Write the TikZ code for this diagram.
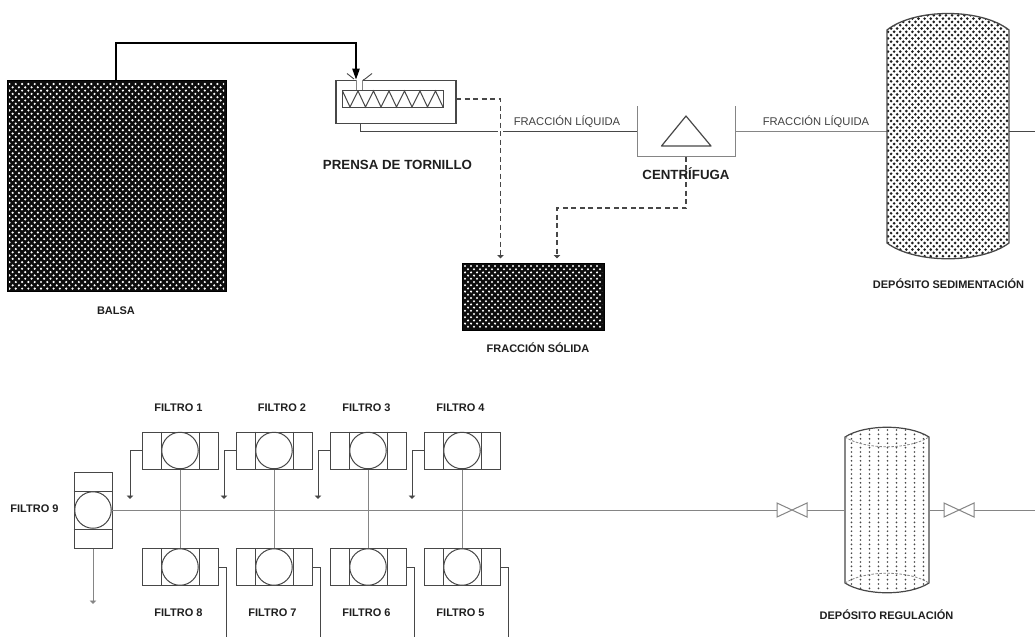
\documentclass[tikz,border=0pt]{standalone}
\usepackage{fontspec}
\setmainfont{Liberation Sans}
\usetikzlibrary{arrows.meta}
\definecolor{ln}{gray}{0.28}
\definecolor{ltl}{gray}{0.52}
\definecolor{ink}{gray}{0.12}
\tikzset{
  x=1pt,y=-1pt,
  pipe/.style={draw=ln,line width=0.9pt},
  thinpipe/.style={draw=ltl,line width=0.9pt},
  dashpipe/.style={draw=ln,line width=1.15pt,dash pattern=on 5pt off 3.5pt},
  smalltip/.style={-{Triangle[length=3.5pt,width=6.5pt]}},
  feedline/.style={draw=black,line width=1.2pt,-{Triangle[length=11pt,width=7.5pt]}},
  shell/.style={draw=ln,line width=1.2pt},
  filt/.style={draw=ln,line width=1pt,inner sep=0pt,minimum width=76pt,minimum height=37pt},
  filtv/.style={draw=ln,line width=1pt,inner sep=0pt,minimum width=38pt,minimum height=76pt},
  wheel/.style={circle,draw=ln,line width=1pt,fill=white,inner sep=0pt,minimum size=36.5pt},
  lab/.style={font=\bfseries\fontsize{11}{12}\selectfont,text=ink,inner sep=0pt},
  biglab/.style={font=\bfseries\fontsize{13.3}{15}\selectfont,text=ink,inner sep=0pt},
  liq/.style={font=\fontsize{11.2}{13}\selectfont,text=ink!85!white,inner sep=0pt},
}
% hole pattern: x0 y0 x1 y1 pitchx pitchy radius colour
\newcommand{\dotfield}[8]{%
  \pgfmathtruncatemacro{\nr}{(#4-#2)/#6}%
  \pgfmathtruncatemacro{\nc}{(#3-#1)/#5}%
  \fill[#8]
  \foreach \r in {0,...,\nr}{\foreach \c in {0,...,\nc}{%
    ({#1+\c*#5+mod(\r,2)*#5/2},{#2+\r*#6}) circle[radius=#7]}};%
}
% horizontal filter: name, cx, cy
\newcommand{\filtroH}[3]{%
  \node[filt] (#1) at (#2,#3) {};
  \draw[draw=ln,line width=1pt] ([xshift=-19pt]#1.north) -- ([xshift=-19pt]#1.south)
     ([xshift=19pt]#1.north) -- ([xshift=19pt]#1.south);
  \node[wheel] (#1c) at (#2,#3) {};
}
\newcommand{\valve}[3]{%
  \coordinate (#1) at (#2,#3);
  \draw[draw=ltl,line width=1pt] (#2-15,#3-7) -- (#2+15,#3+7) -- (#2+15,#3-7) -- (#2-15,#3+7) -- cycle;
  \coordinate (#1w) at (#2-15,#3); \coordinate (#1e) at (#2+15,#3);
}
\begin{document}
\begin{tikzpicture}
\useasboundingbox (0,0) rectangle (1035,637);
\fill[white] (0,0) rectangle (1035,637);

% Balsa
\node[draw=black,fill=black!95,line width=1pt,minimum width=219pt,minimum height=211pt,inner sep=0pt] (balsa) at (116.5,186) {};
\begin{scope}
\clip (9,82) rectangle (224,290);
\dotfield{9.5}{84}{226}{291}{6.3}{3.3}{1.2}{white}
\end{scope}
\coordinate (balsatop) at (116,80.5);

% Fraccion solida
\node[draw=black,fill=black!95,line width=1pt,minimum width=142pt,minimum height=67pt,inner sep=0pt] (solida) at (533,297) {};
\begin{scope}
\clip (464,265) rectangle (602,328);
\dotfield{465}{266}{604}{329}{6.0}{3.2}{1.15}{white}
\end{scope}

% Prensa
\node[draw=ln,line width=1.3pt,minimum width=120pt,minimum height=43pt,inner sep=0pt,fill=white] (prensa) at (396,102) {};
\draw[fill=white,draw=ln,line width=0.9pt] (342.5,90.5) rectangle (443,107.5);
\draw[draw=ln,line width=1pt] (342.5,91) -- (350,107) -- (358,91) -- (365.5,107) -- (373.5,91) -- (381,107) -- (389,91) -- (396.5,107) -- (404.5,91) -- (412,107) -- (420,91) -- (427.5,107) -- (435.5,91) -- (443,107);
\fill[white] (356.5,79) rectangle (362.5,90);
\draw[draw=ltl,line width=0.9pt] (356.5,80) -- (356.5,90) (362.5,80) -- (362.5,90);
\draw[draw=ln,line width=0.9pt] (347,73.5) -- (354,79) (372,73.5) -- (365,79) -- (363,80);
\coordinate (hopper) at (356,79.5);
\draw[feedline] (balsatop) -- (116,43) -- (356,43) -- (hopper);
\node[biglab] (lprensa) at (397.5,164.5) {PRENSA DE TORNILLO};

% Centrifuga
\draw[draw=ltl,line width=1pt] (637,106) -- (637,156) -- (735,156) -- (735,106);
\draw[draw=ln,line width=1.2pt,line join=round] (686,116) -- (661.5,146) -- (711,146) -- cycle;
\coordinate (cw) at (637,131.5); \coordinate (ce) at (735,131.5); \coordinate (cs) at (686,156.5);

% Liquid lines
\coordinate (pout) at (360,123.5);
\draw[pipe] (pout) -- (360,131.5) -- (cw);
\draw[thinpipe] (ce) -- (887,131.5);
\draw[pipe] (1009,131.5) -- (1035,131.5);
\node[liq] (lliq1) at (567,122) {FRACCIÓN LÍQUIDA};
\node[liq] (lliq2) at (816,122) {FRACCIÓN LÍQUIDA};

% Dashed lines
\coordinate (pe) at (456,99);
\coordinate (s1) at (500.5,258.5);
\coordinate (s2) at (557,258.5);
\fill[white] (498,129) rectangle (503,134);
\draw[dashpipe,smalltip] (pe) -- (500.5,99) -- (s1);
\draw[dashpipe,smalltip] (cs) -- (686,208) -- (557,208) -- (s2);
\node[biglab] (lcent) at (686,174) {CENTRÍFUGA};
\node[lab] (lsol) at (538,348) {FRACCIÓN SÓLIDA};
\node[lab] (lbal) at (116,311) {BALSA};

% Deposito sedimentacion
\begin{scope}
\clip (887,30) .. controls (915,8) and (981,8) .. (1009,30) -- (1009,243) .. controls (981,264) and (915,264) .. (887,243) -- cycle;
\dotfield{888}{12}{1012}{262}{6.1}{3.3}{1.45}{ink}
\end{scope}
\draw[shell,line width=1.3pt] (887,30) .. controls (915,8) and (981,8) .. (1009,30) -- (1009,243) .. controls (981,264) and (915,264) .. (887,243) -- cycle;
\coordinate (sedw) at (887,131.5);
\node[lab] (lsed) at (948.5,283.5) {DEPÓSITO SEDIMENTACIÓN};

% Deposito regulacion
\begin{scope}
\clip (845,437) .. controls (865,424) and (909,424) .. (929,437) -- (929,583) .. controls (909,596) and (865,596) .. (845,583) -- cycle;
\foreach \i in {0,...,8}{
  \foreach \j in {0,...,36}{
    \fill[ln] (851.5+\i*9,430+\j*4.4) circle[radius=0.95];
  }
}
\end{scope}
\draw[shell] (845,437) .. controls (865,424) and (909,424) .. (929,437) -- (929,583) .. controls (909,596) and (865,596) .. (845,583) -- cycle;
\draw[draw=ltl,line width=0.8pt,dash pattern=on 2.5pt off 1.5pt] (845,437) .. controls (865,450) and (909,450) .. (929,437);
\draw[draw=ltl,line width=0.8pt,dash pattern=on 2.5pt off 1.5pt] (845,583) .. controls (865,570) and (909,570) .. (929,583);
\coordinate (regw) at (845,510); \coordinate (rege) at (929,510);
\node[lab] (lreg) at (886.5,614.5) {DEPÓSITO REGULACIÓN};

% Filters
\filtroH{f1}{180}{450.5}
\filtroH{f2}{274}{450.5}
\filtroH{f3}{368}{450.5}
\filtroH{f4}{462}{450.5}
\filtroH{f8}{180}{567}
\filtroH{f7}{274}{567}
\filtroH{f6}{368}{567}
\filtroH{f5}{462}{567}
\node[filtv] (f9) at (93,510) {};
\draw[draw=ln,line width=1pt] ([yshift=19pt]f9.west) -- ([yshift=19pt]f9.east) ([yshift=-19pt]f9.west) -- ([yshift=-19pt]f9.east);
\node[wheel] (f9c) at (93,510) {};

% Main header and valves
\valve{v1}{792}{510}
\valve{v2}{959}{510}
\draw[thinpipe] (f9c.east) -- (v1w);
\draw[thinpipe] (v1e) -- (regw);
\draw[thinpipe] (rege) -- (v2w);
\draw[thinpipe] (v2e) -- (1035,510);

% Verticals
\foreach \a/\b in {f1/f8,f2/f7,f3/f6,f4/f5}{
  \draw[thinpipe] (\a.south) -- (\b.north);
}
% Drains top row
\foreach \a/\xx in {f1/130,f2/224,f3/318,f4/412}{
  \coordinate (\a d) at (\xx,499);
  \draw[pipe,smalltip] (\a.west) -- (\xx,450.5) -- (\a d);
}
% Outlets bottom row
\foreach \a/\xx in {f8/226,f7/320,f6/414,f5/508}{
  \coordinate (\a d) at (\xx,637);
  \draw[pipe] (\a.east) -- (\xx,567) -- (\a d);
}
\coordinate (f9d) at (93,604);
\draw[thinpipe,smalltip] (f9.south) -- (f9d);

% Labels
\node[lab] (l1) at (178.5,407.5) {FILTRO 1};
\node[lab] (l2) at (282,407.5) {FILTRO 2};
\node[lab] (l3) at (366.5,407.5) {FILTRO 3};
\node[lab] (l4) at (460.5,407.5) {FILTRO 4};
\node[lab] (l8) at (178.5,613) {FILTRO 8};
\node[lab] (l7) at (272.5,613) {FILTRO 7};
\node[lab] (l6) at (366.5,613) {FILTRO 6};
\node[lab] (l5) at (460.5,613) {FILTRO 5};
\node[lab] (l9) at (34.5,509) {FILTRO 9};
\end{tikzpicture}
\end{document}
